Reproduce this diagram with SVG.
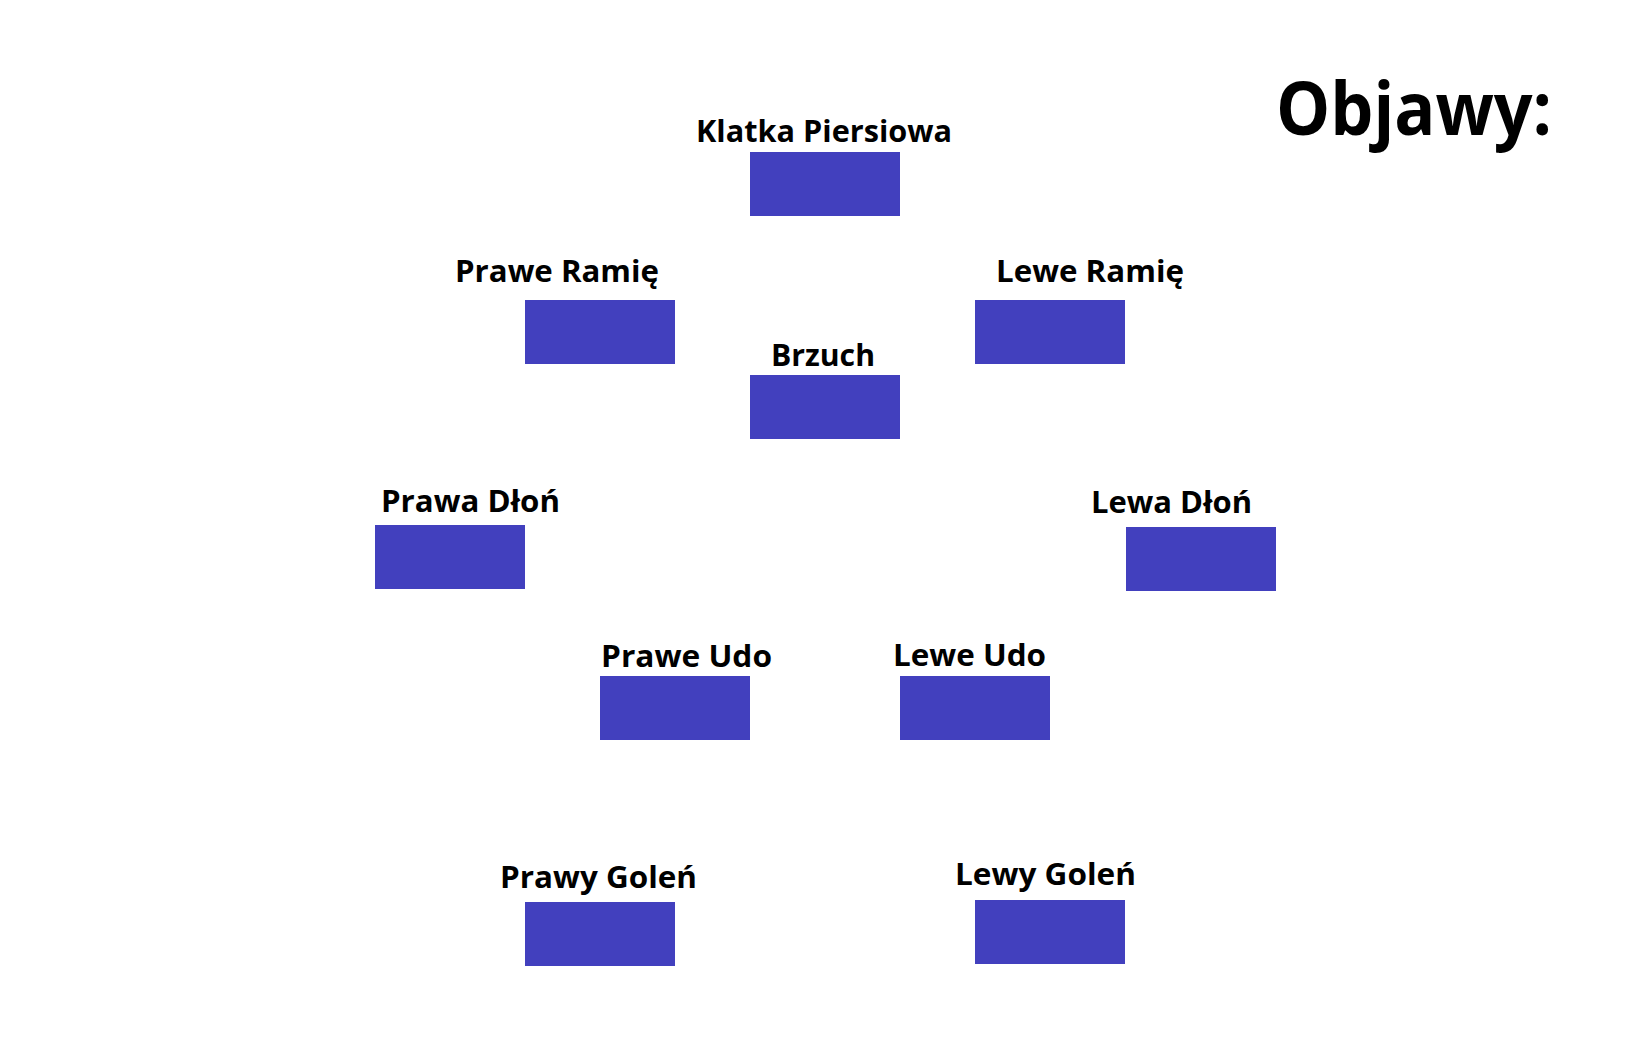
<svg xmlns="http://www.w3.org/2000/svg" width="1650" height="1050" viewBox="0 0 1650 1050">
<style>
.box{fill:#4240BE;}
.lbl{font-family:"Open Sans","Liberation Sans",sans-serif;font-weight:bold;font-size:30.5px;fill:#000;}
.title{font-family:"Open Sans","Liberation Sans",sans-serif;font-weight:bold;font-size:74px;fill:#000;}
</style>
<rect width="1650" height="1050" fill="#fff"/>
<text class="title" x="1276" y="135" textLength="276" lengthAdjust="spacingAndGlyphs">Objawy:</text>
<g id="klatka"><text class="lbl" x="696" y="142" textLength="256" lengthAdjust="spacingAndGlyphs">Klatka Piersiowa</text><rect class="box" x="750" y="152" width="150" height="64"/></g>
<g id="prawe-ramie"><text class="lbl" x="455" y="282" textLength="204" lengthAdjust="spacingAndGlyphs">Prawe Ramię</text><rect class="box" x="525" y="300" width="150" height="64"/></g>
<g id="lewe-ramie"><text class="lbl" x="996" y="282" textLength="188" lengthAdjust="spacingAndGlyphs">Lewe Ramię</text><rect class="box" x="975" y="300" width="150" height="64"/></g>
<g id="brzuch"><text class="lbl" x="771" y="366" textLength="104" lengthAdjust="spacingAndGlyphs">Brzuch</text><rect class="box" x="750" y="375" width="150" height="64"/></g>
<g id="prawa-dlon"><text class="lbl" x="381" y="512" textLength="179" lengthAdjust="spacingAndGlyphs">Prawa Dłoń</text><rect class="box" x="375" y="525" width="150" height="64"/></g>
<g id="lewa-dlon"><text class="lbl" x="1091" y="513" textLength="161" lengthAdjust="spacingAndGlyphs">Lewa Dłoń</text><rect class="box" x="1126" y="527" width="150" height="64"/></g>
<g id="prawe-udo"><text class="lbl" x="601" y="667" textLength="171" lengthAdjust="spacingAndGlyphs">Prawe Udo</text><rect class="box" x="600" y="676" width="150" height="64"/></g>
<g id="lewe-udo"><text class="lbl" x="893" y="666" textLength="153" lengthAdjust="spacingAndGlyphs">Lewe Udo</text><rect class="box" x="900" y="676" width="150" height="64"/></g>
<g id="prawy-golen"><text class="lbl" x="500" y="888" textLength="197" lengthAdjust="spacingAndGlyphs">Prawy Goleń</text><rect class="box" x="525" y="902" width="150" height="64"/></g>
<g id="lewy-golen"><text class="lbl" x="955" y="885" textLength="181" lengthAdjust="spacingAndGlyphs">Lewy Goleń</text><rect class="box" x="975" y="900" width="150" height="64"/></g>
<g id="connectors"></g>
</svg>
